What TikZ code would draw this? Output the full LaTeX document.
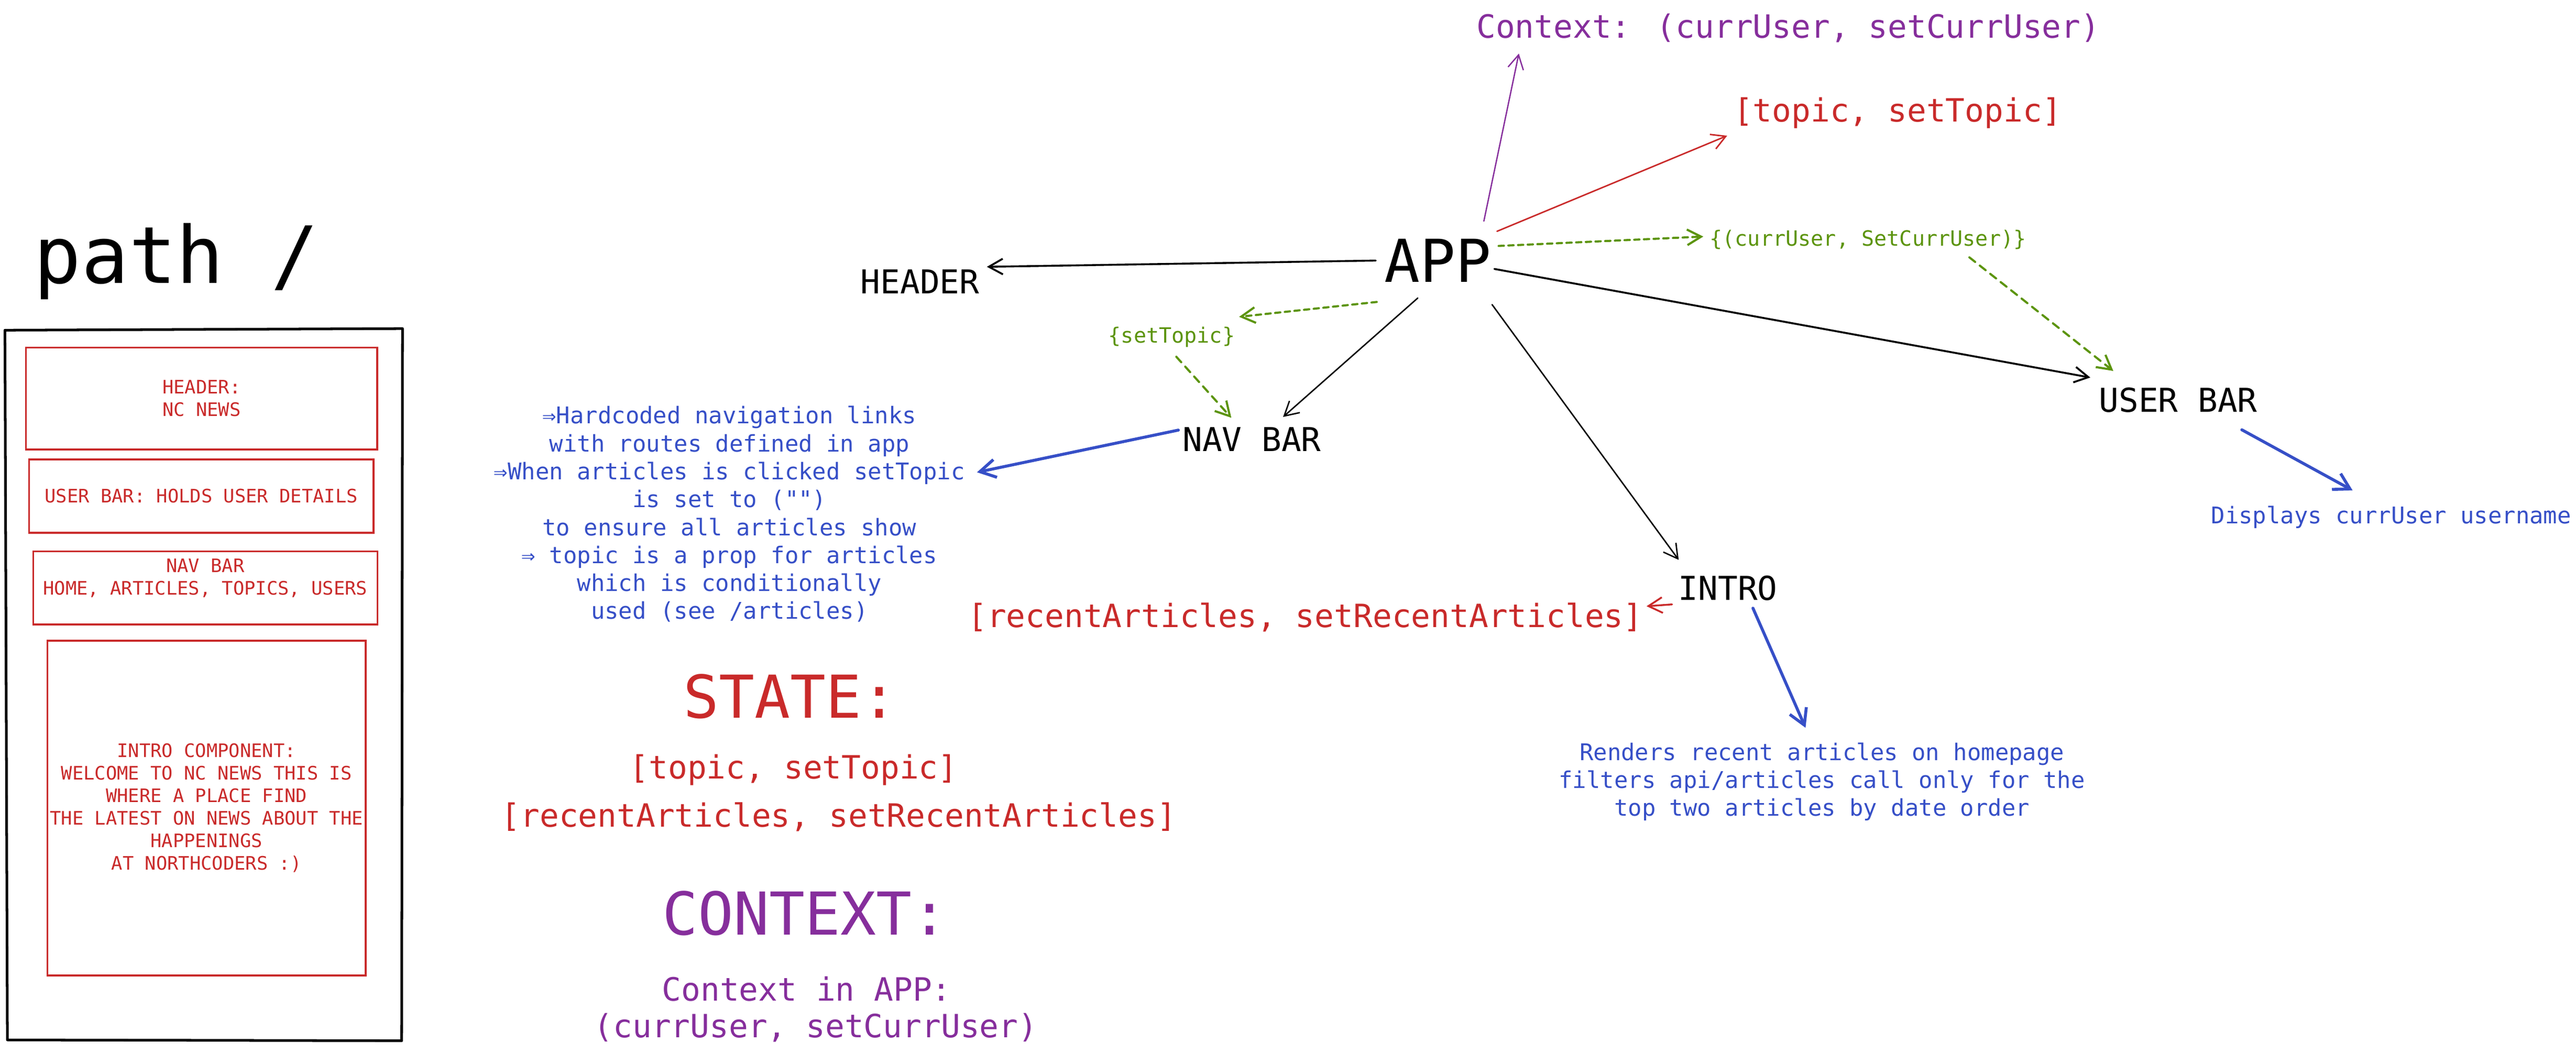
\documentclass[tikz,border=0pt]{standalone}
\usepackage{fontspec}
\usetikzlibrary{arrows.meta}
\newfontfamily\mono{DejaVu Sans Mono}
\definecolor{exred}{HTML}{C92A2A}
\definecolor{expurple}{HTML}{862E9C}
\definecolor{exblue}{HTML}{364FC7}
\definecolor{exgreen}{HTML}{5C940D}
\tikzset{
  bigtxt/.style={font=\mono\fontsize{36}{43}\selectfont, inner sep=0pt, text height=26.2pt, text depth=0pt},
  comp/.style={font=\mono\fontsize{20}{24}\selectfont, inner sep=0pt, text height=14.6pt, text depth=0pt},
  hooktxt/.style={font=\mono\fontsize{19.5}{22.4}\selectfont, inner sep=0pt, text height=14.2pt, text depth=0pt},
  proplbl/.style={font=\mono\fontsize{12.8}{15}\selectfont, text=exgreen, inner sep=0pt, text height=9.3pt, text depth=0pt},
  note/.style={font=\mono\fontsize{14}{17}\selectfont, text=exblue, inner sep=0pt, align=center, anchor=north},
  wire/.style={draw=exred, line width=1.1pt, inner sep=0pt, font=\mono\fontsize{11.3}{13.7}\selectfont, text=exred, align=center},
  link/.style={-{Straight Barb[length=8.5pt,width=9.5pt]}, line cap=round, line join=round},
  tochild/.style={link, line width=1.15pt},
  thinchild/.style={link, line width=0.85pt},
  prop/.style={link, exgreen, line width=1.3pt, dash pattern=on 3.2pt off 2.7pt},
  passdown/.style={prop, dash pattern=on 4.5pt off 3.6pt},
  explain/.style={-{Straight Barb[length=9.5pt,width=11pt]}, exblue, line width=1.8pt, line cap=round, line join=round}
}
\begin{document}
\begin{tikzpicture}[x=1pt, y=-1pt]
  \useasboundingbox (0,0) rectangle (1568,640.7);

  % wireframe of the page
  \node [font=\mono\fontsize{48}{56}\selectfont, inner sep=0pt, anchor=base] (pathttl) at (107.4,172.4) {path /};
  \draw [line width=1.6pt, line join=round] (3,201) -- (245,200) -- (244.5,633.5) -- (4.5,633) -- cycle;
  \node [wire, minimum width=213.8pt, minimum height=62pt] (hdrbox) at (122.7,242.6) {HEADER:\\NC NEWS};
  \node [wire, minimum width=209.7pt, minimum height=44.6pt] (usrbox) at (122.5,302) {USER BAR: HOLDS USER DETAILS};
  \node [wire, minimum width=209.4pt, minimum height=44.5pt] (navbox) at (125,357.8) {};
  \node [wire, draw=none] (navtxt) at (125,351.8) {NAV BAR\\HOME, ARTICLES, TOPICS, USERS};
  \node [wire, minimum width=193.8pt, minimum height=203.8pt] (introbox) at (125.7,491.9) {INTRO COMPONENT:\\WELCOME TO NC NEWS THIS IS\\WHERE A PLACE FIND\\THE LATEST ON NEWS ABOUT THE\\HAPPENINGS\\AT NORTHCODERS :)};

  % component tree
  \node [bigtxt] (app) at (875.3,158.6) {APP};
  \node [comp] (header) at (560,171.3) {HEADER};
  \node [comp] (navbar) at (762,267.3) {NAV BAR};
  \node [comp] (userbar) at (1325.8,243.5) {USER BAR};
  \node [comp] (intro) at (1051.8,358) {INTRO};
  \node [hooktxt, text=expurple] (ctxtop) at (1088.5,16) {Context: (currUser, setCurrUser)};
  \node [hooktxt, text=exred] (topictop) at (1155,66.9) {[topic, setTopic]};
  \node [proplbl] (currprop) at (1137,145) {\{(currUser, SetCurrUser)\}};
  \node [proplbl] (topicprop) at (713.2,204) {\{setTopic\}};
  \node [hooktxt, text=exred] (recent) at (794.5,374.9) {[recentArticles, setRecentArticles]};

  % notes
  \node [note] (navnote) at (444,247) {⇒Hardcoded navigation links\\with routes defined in app\\⇒When articles is clicked setTopic\\is set to ("")\\to ensure all articles show\\⇒ topic is a prop for articles\\which is conditionally\\used (see /articles)};
  \node [note] (usernote) at (1455.5,307.7) {Displays currUser username};
  \node [note] (rendernote) at (1109,451.8) {Renders recent articles on homepage\\filters api/articles call only for the\\top two articles by date order};

  % summary
  \node [bigtxt, text=exred] (statettl) at (481,424) {STATE:};
  \node [hooktxt, text=exred] (statetopic) at (483,466.9) {[topic, setTopic]};
  \node [hooktxt, text=exred] (staterecent) at (510.5,496.4) {[recentArticles, setRecentArticles]};
  \node [bigtxt, text=expurple] (ctxttl) at (490,555.8) {CONTEXT:};
  \node [hooktxt, text=expurple] (ctxapp) at (491,602) {Context in APP:};
  \node [hooktxt, text=expurple] (ctxpair) at (496.5,624.4) {(currUser, setCurrUser)};

  \path
  ([xshift=-5.2pt]app.west) edge [tochild] ([xshift=4.4pt,yshift=1.4pt]header.north east)
  ([xshift=-12.3pt,yshift=-9.5pt]app.south) edge [thinchild] ([xshift=19pt,yshift=6pt]navbar.north)
  ([xshift=0.2pt,yshift=-13.5pt]app.south east) edge [thinchild] ([xshift=0.3pt,yshift=9.7pt]intro.north west)
  ([xshift=1.6pt,yshift=-5.1pt]app.east) edge [tochild] ([xshift=-5.1pt,yshift=6.2pt]userbar.north west)
  ([xshift=-4.8pt,yshift=10.7pt]app.north east) edge [link, expurple, line width=0.8pt] ([xshift=26pt,yshift=-9.3pt]ctxtop.south west)
  ([xshift=3.2pt,yshift=4.5pt]app.north east) edge [link, exred, line width=0.9pt] ([xshift=-3.7pt,yshift=-8.4pt]topictop.south west)
  ([xshift=4.2pt,yshift=8.9pt]app.east) edge [prop] ([xshift=-3.7pt,yshift=1pt]currprop.west)
  ([xshift=-4.6pt,yshift=-11.9pt]app.south west) edge [prop] ([xshift=2.3pt,yshift=6.3pt]topicprop.north east)
  ([xshift=2.8pt,yshift=-8.3pt]topicprop.south) edge [passdown] ([xshift=-12.5pt,yshift=5.5pt]navbar.north)
  ([xshift=-34.8pt,yshift=-6.8pt]currprop.south east) edge [passdown] ([xshift=8.9pt,yshift=10.2pt]userbar.north west)
  ([xshift=-3.7pt,yshift=-2.4pt]intro.south west) edge [link, exred, line width=1.1pt] ([xshift=2.1pt,yshift=5.9pt]recent.east)
  ([xshift=-2.4pt,yshift=5.5pt]navbar.west) edge [explain] ([xshift=7.2pt,yshift=25.5pt]navnote.east)
  ([xshift=-9.6pt,yshift=-10.6pt]userbar.south east) edge [explain] ([xshift=-23.5pt,yshift=9.2pt]usernote.north)
  ([xshift=15.2pt,yshift=-4.7pt]intro.south) edge [explain] ([xshift=-10pt,yshift=8.8pt]rendernote.north);
\end{tikzpicture}
\end{document}
